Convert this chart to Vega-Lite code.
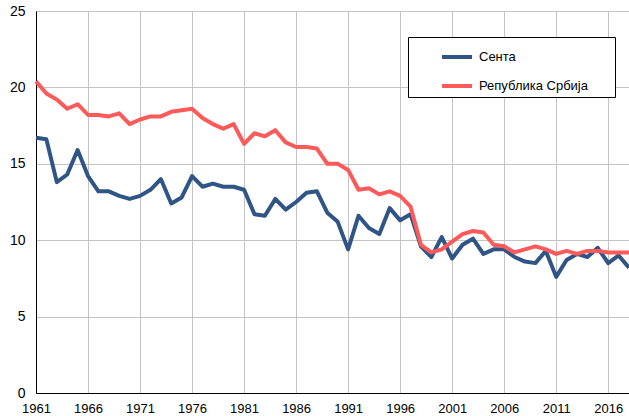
{
  "$schema": "https://vega.github.io/schema/vega-lite/v6.json",
  "width": 593,
  "height": 382,
  "autosize": {"type": "none"},
  "padding": {"left": 36, "top": 11, "right": 0, "bottom": 23},
  "background": "white",
  "config": {
    "font": "Liberation Sans",
    "view": {"stroke": "black", "strokeWidth": 1},
    "axis": {"gridColor": "#c4c4c4", "gridWidth": 1, "ticks": false, "domainColor": "black", "labelColor": "black", "title": null}
  },
  "data": {
    "values": [
      {"year": 1961, "series": "Сента", "value": 16.7},
      {"year": 1962, "series": "Сента", "value": 16.6},
      {"year": 1963, "series": "Сента", "value": 13.8},
      {"year": 1964, "series": "Сента", "value": 14.3},
      {"year": 1965, "series": "Сента", "value": 15.9},
      {"year": 1966, "series": "Сента", "value": 14.2},
      {"year": 1967, "series": "Сента", "value": 13.2},
      {"year": 1968, "series": "Сента", "value": 13.2},
      {"year": 1969, "series": "Сента", "value": 12.9},
      {"year": 1970, "series": "Сента", "value": 12.7},
      {"year": 1971, "series": "Сента", "value": 12.9},
      {"year": 1972, "series": "Сента", "value": 13.3},
      {"year": 1973, "series": "Сента", "value": 14.0},
      {"year": 1974, "series": "Сента", "value": 12.4},
      {"year": 1975, "series": "Сента", "value": 12.8},
      {"year": 1976, "series": "Сента", "value": 14.2},
      {"year": 1977, "series": "Сента", "value": 13.5},
      {"year": 1978, "series": "Сента", "value": 13.7},
      {"year": 1979, "series": "Сента", "value": 13.5},
      {"year": 1980, "series": "Сента", "value": 13.5},
      {"year": 1981, "series": "Сента", "value": 13.3},
      {"year": 1982, "series": "Сента", "value": 11.7},
      {"year": 1983, "series": "Сента", "value": 11.6},
      {"year": 1984, "series": "Сента", "value": 12.7},
      {"year": 1985, "series": "Сента", "value": 12.0},
      {"year": 1986, "series": "Сента", "value": 12.5},
      {"year": 1987, "series": "Сента", "value": 13.1},
      {"year": 1988, "series": "Сента", "value": 13.2},
      {"year": 1989, "series": "Сента", "value": 11.8},
      {"year": 1990, "series": "Сента", "value": 11.2},
      {"year": 1991, "series": "Сента", "value": 9.4},
      {"year": 1992, "series": "Сента", "value": 11.6},
      {"year": 1993, "series": "Сента", "value": 10.8},
      {"year": 1994, "series": "Сента", "value": 10.4},
      {"year": 1995, "series": "Сента", "value": 12.1},
      {"year": 1996, "series": "Сента", "value": 11.3},
      {"year": 1997, "series": "Сента", "value": 11.7},
      {"year": 1998, "series": "Сента", "value": 9.6},
      {"year": 1999, "series": "Сента", "value": 8.9},
      {"year": 2000, "series": "Сента", "value": 10.2},
      {"year": 2001, "series": "Сента", "value": 8.8},
      {"year": 2002, "series": "Сента", "value": 9.7},
      {"year": 2003, "series": "Сента", "value": 10.1},
      {"year": 2004, "series": "Сента", "value": 9.1},
      {"year": 2005, "series": "Сента", "value": 9.4},
      {"year": 2006, "series": "Сента", "value": 9.4},
      {"year": 2007, "series": "Сента", "value": 8.9},
      {"year": 2008, "series": "Сента", "value": 8.6},
      {"year": 2009, "series": "Сента", "value": 8.5},
      {"year": 2010, "series": "Сента", "value": 9.3},
      {"year": 2011, "series": "Сента", "value": 7.6},
      {"year": 2012, "series": "Сента", "value": 8.7},
      {"year": 2013, "series": "Сента", "value": 9.1},
      {"year": 2014, "series": "Сента", "value": 8.9},
      {"year": 2015, "series": "Сента", "value": 9.5},
      {"year": 2016, "series": "Сента", "value": 8.5},
      {"year": 2017, "series": "Сента", "value": 9.0},
      {"year": 2018, "series": "Сента", "value": 8.2},
      {"year": 1961, "series": "Република Србија", "value": 20.4},
      {"year": 1962, "series": "Република Србија", "value": 19.6},
      {"year": 1963, "series": "Република Србија", "value": 19.2},
      {"year": 1964, "series": "Република Србија", "value": 18.6},
      {"year": 1965, "series": "Република Србија", "value": 18.9},
      {"year": 1966, "series": "Република Србија", "value": 18.2},
      {"year": 1967, "series": "Република Србија", "value": 18.2},
      {"year": 1968, "series": "Република Србија", "value": 18.1},
      {"year": 1969, "series": "Република Србија", "value": 18.3},
      {"year": 1970, "series": "Република Србија", "value": 17.6},
      {"year": 1971, "series": "Република Србија", "value": 17.9},
      {"year": 1972, "series": "Република Србија", "value": 18.1},
      {"year": 1973, "series": "Република Србија", "value": 18.1},
      {"year": 1974, "series": "Република Србија", "value": 18.4},
      {"year": 1975, "series": "Република Србија", "value": 18.5},
      {"year": 1976, "series": "Република Србија", "value": 18.6},
      {"year": 1977, "series": "Република Србија", "value": 18.0},
      {"year": 1978, "series": "Република Србија", "value": 17.6},
      {"year": 1979, "series": "Република Србија", "value": 17.3},
      {"year": 1980, "series": "Република Србија", "value": 17.6},
      {"year": 1981, "series": "Република Србија", "value": 16.3},
      {"year": 1982, "series": "Република Србија", "value": 17.0},
      {"year": 1983, "series": "Република Србија", "value": 16.8},
      {"year": 1984, "series": "Република Србија", "value": 17.2},
      {"year": 1985, "series": "Република Србија", "value": 16.4},
      {"year": 1986, "series": "Република Србија", "value": 16.1},
      {"year": 1987, "series": "Република Србија", "value": 16.1},
      {"year": 1988, "series": "Република Србија", "value": 16.0},
      {"year": 1989, "series": "Република Србија", "value": 15.0},
      {"year": 1990, "series": "Република Србија", "value": 15.0},
      {"year": 1991, "series": "Република Србија", "value": 14.6},
      {"year": 1992, "series": "Република Србија", "value": 13.3},
      {"year": 1993, "series": "Република Србија", "value": 13.4},
      {"year": 1994, "series": "Република Србија", "value": 13.0},
      {"year": 1995, "series": "Република Србија", "value": 13.2},
      {"year": 1996, "series": "Република Србија", "value": 12.9},
      {"year": 1997, "series": "Република Србија", "value": 12.2},
      {"year": 1998, "series": "Република Србија", "value": 9.7},
      {"year": 1999, "series": "Република Србија", "value": 9.2},
      {"year": 2000, "series": "Република Србија", "value": 9.4},
      {"year": 2001, "series": "Република Србија", "value": 9.9},
      {"year": 2002, "series": "Република Србија", "value": 10.4},
      {"year": 2003, "series": "Република Србија", "value": 10.6},
      {"year": 2004, "series": "Република Србија", "value": 10.5},
      {"year": 2005, "series": "Република Србија", "value": 9.7},
      {"year": 2006, "series": "Република Србија", "value": 9.6},
      {"year": 2007, "series": "Република Србија", "value": 9.2},
      {"year": 2008, "series": "Република Србија", "value": 9.4},
      {"year": 2009, "series": "Република Србија", "value": 9.6},
      {"year": 2010, "series": "Република Србија", "value": 9.4},
      {"year": 2011, "series": "Република Србија", "value": 9.1},
      {"year": 2012, "series": "Република Србија", "value": 9.3},
      {"year": 2013, "series": "Република Србија", "value": 9.1},
      {"year": 2014, "series": "Република Србија", "value": 9.3},
      {"year": 2015, "series": "Република Србија", "value": 9.3},
      {"year": 2016, "series": "Република Србија", "value": 9.2},
      {"year": 2017, "series": "Република Србија", "value": 9.2},
      {"year": 2018, "series": "Република Србија", "value": 9.2}
    ]
  },
  "mark": {"type": "line", "strokeWidth": 4, "strokeJoin": "round", "strokeCap": "butt"},
  "encoding": {
    "x": {
      "field": "year", "type": "quantitative",
      "scale": {"domain": [1961, 2018], "nice": false, "zero": false},
      "axis": {"values": [1961, 1966, 1971, 1976, 1981, 1986, 1991, 1996, 2001, 2006, 2011, 2016], "format": "d", "labelFontSize": 13, "labelPadding": 9, "labelFlush": false, "labelOverlap": false}
    },
    "y": {
      "field": "value", "type": "quantitative",
      "scale": {"domain": [0, 25], "nice": false},
      "axis": {"values": [0, 5, 10, 15, 20, 25], "labelFontSize": 14, "labelPadding": 11}
    },
    "color": {
      "field": "series", "type": "nominal",
      "scale": {"domain": ["Сента", "Република Србија"], "range": ["#2F5586", "#FF5A5A"]},
      "legend": {
        "title": ".", "titleColor": "white", "titleOrient": "right", "titlePadding": 22, "titleFontSize": 6,
        "orient": "none", "legendX": 372, "legendY": 26,
        "direction": "vertical", "symbolType": "stroke", "symbolSize": 900, "symbolStrokeWidth": 4,
        "symbolOffset": 29, "labelFontSize": 13, "labelColor": "black", "labelOffset": 5,
        "rowPadding": 4, "padding": 3, "strokeColor": "black", "fillColor": "white",
        "labelLimit": 300
      }
    }
  }
}
